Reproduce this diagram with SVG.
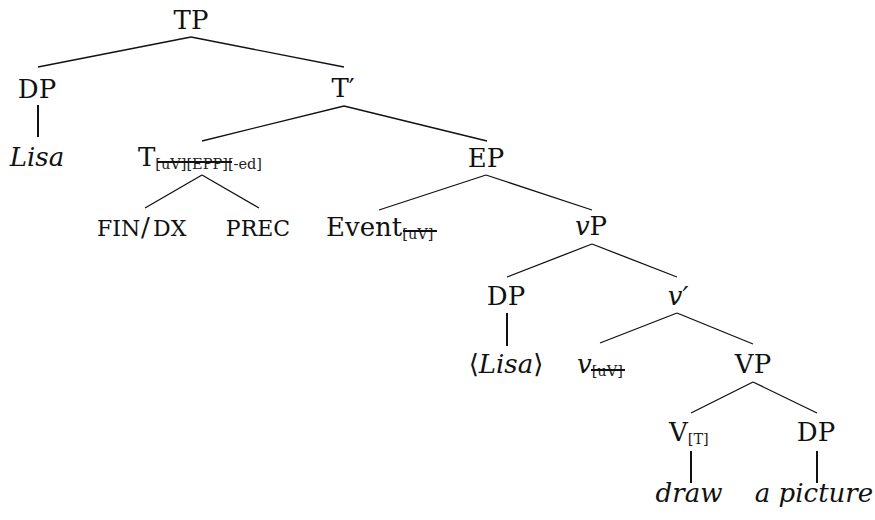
<svg xmlns="http://www.w3.org/2000/svg" width="875" height="520" viewBox="0 0 875 520">
<style>
text{font-family:"DejaVu Serif","Liberation Serif",serif;font-size:26px;fill:#111}
.m{text-anchor:middle}
.i{font-style:italic}
.sub{font-size:14.5px;fill:#222}
.sc{font-size:22px}
.edge{stroke:#111;stroke-width:1.3;fill:none}
.stem{stroke:#111;stroke-width:2;fill:none}
.strike{stroke:#111;stroke-width:1.8}
</style>
<rect width="875" height="520" fill="#fff"/>
<g id="connectors">
<line class="edge" x1="191" y1="37" x2="38" y2="67"/>
<line class="edge" x1="191" y1="37" x2="344" y2="67"/>
<line class="stem" x1="38" y1="105" x2="38" y2="137"/>
<line class="edge" x1="344" y1="106" x2="202" y2="141"/>
<line class="edge" x1="344" y1="106" x2="487" y2="141"/>
<line class="edge" x1="202" y1="175" x2="145" y2="208"/>
<line class="edge" x1="202" y1="175" x2="259" y2="208"/>
<line class="edge" x1="486" y1="175" x2="379" y2="210"/>
<line class="edge" x1="486" y1="175" x2="592" y2="210"/>
<line class="edge" x1="592" y1="244" x2="507" y2="277"/>
<line class="edge" x1="592" y1="244" x2="677" y2="277"/>
<line class="stem" x1="507" y1="313" x2="507" y2="346"/>
<line class="edge" x1="677" y1="313" x2="600" y2="343"/>
<line class="edge" x1="677" y1="313" x2="753" y2="344"/>
<line class="edge" x1="753" y1="382" x2="691" y2="413"/>
<line class="edge" x1="753" y1="382" x2="817" y2="413"/>
<line class="stem" x1="691" y1="451" x2="691" y2="483"/>
<line class="stem" x1="817" y1="451" x2="817" y2="483" stroke-width="2.4"/>
</g>
<g id="TP"><text class="m" x="191" y="29">TP</text></g>
<g id="DP1"><text class="m" x="37" y="98">DP</text></g>
<g id="Lisa1"><text class="m i" x="37" y="166">Lisa</text></g>
<g id="Tbar"><text class="m" x="343" y="97">T′</text></g>
<g id="T"><text x="138" y="166">T<tspan class="sub" dy="3">[uV][EPP][-ed]</tspan></text>
<line class="strike" x1="157" y1="162" x2="232" y2="162"/></g>
<g id="FINDX"><text class="sc" y="236"><tspan x="97">FIN</tspan><tspan x="141" style="font-size:26px">/</tspan><tspan x="153">DX</tspan></text></g>
<g id="PREC"><text class="m sc" x="258" y="236">PREC</text></g>
<g id="EP"><text class="m" x="486" y="167">EP</text></g>
<g id="Event"><text x="326" y="236">Event<tspan class="sub" dy="3">[uV]</tspan></text>
<line class="strike" x1="403" y1="231" x2="437" y2="231"/></g>
<g id="vP"><text class="m" x="591" y="235"><tspan class="i">v</tspan>P</text></g>
<g id="DP2"><text class="m" x="506" y="305">DP</text></g>
<g id="vbar"><text class="m i" x="678" y="305">v′</text></g>
<g id="Lisa2"><text class="m" x="506" y="373">⟨<tspan class="i">Lisa</tspan>⟩</text></g>
<g id="v"><text x="577" y="373"><tspan class="i">v</tspan><tspan class="sub" dy="3">[uV]</tspan></text>
<line class="strike" x1="591" y1="370" x2="625" y2="370"/></g>
<g id="VP"><text class="m" x="753" y="373">VP</text></g>
<g id="V"><text x="669" y="441">V<tspan class="sub" dy="3">[T]</tspan></text></g>
<g id="DP3"><text class="m" x="816" y="441">DP</text></g>
<g id="draw"><text class="m i" x="689" y="502">draw</text></g>
<g id="apicture"><text class="m i" x="814" y="502">a picture</text></g>
</svg>
